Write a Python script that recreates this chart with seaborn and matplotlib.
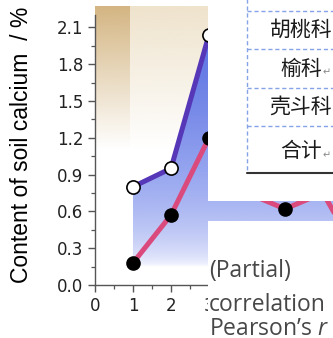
import numpy as np
import matplotlib
matplotlib.use("Agg")
import matplotlib.pyplot as plt
import seaborn as sns
from matplotlib.patches import PathPatch
from matplotlib.ticker import MultipleLocator, FormatStrFormatter

# ---- data -------------------------------------------------------------
months = [1, 2, 3, 4, 5, 6, 7]
calcium_upper = [0.80, 0.95, 2.04, 1.86, 1.55, 1.72, 1.38]
calcium_lower = [0.18, 0.57, 1.20, 0.75, 0.62, 0.75, 0.20]
y_ticks = [0.0, 0.3, 0.6, 0.9, 1.2, 1.5, 1.8, 2.1]
x_ticks = [0, 1, 2, 3]
families = ["胡桃科", "榆科", "壳斗科", "合计"]
note_lines = ["(Partial)", "correlation", "Pearson’s $r$"]
y_label = "Content of soil calcium  / %"

# ---- styling ----------------------------------------------------------
sns.set_theme(style="ticks")
plt.rcParams["font.family"] = ["DejaVu Sans"]
plt.rcParams["mathtext.fontset"] = "custom"
plt.rcParams["mathtext.rm"] = "Open Sans"
plt.rcParams["mathtext.it"] = "Open Sans:italic"

PURPLE = "#5637b8"
PINK = "#db4a7d"
TAN = (212, 181, 130)
BEIGE = (239, 227, 204)
BLUE = (88, 112, 230)

W, H = 333, 338
fig = plt.figure(figsize=(W / 100, H / 100), dpi=100)
fig.patch.set_facecolor("white")


def px_rect(x0, y0, x1, y1):
    return [x0 / W, 1 - y1 / H, (x1 - x0) / W, (y1 - y0) / H]


def vertical_gradient(ax, x0, x1, y0, y1, rgb, alpha_of, z):
    vals = np.linspace(y1, y0, 256)
    img = np.zeros((256, 1, 4))
    img[..., :3] = np.array(rgb) / 255.0
    img[:, 0, 3] = alpha_of(vals)
    return ax.imshow(img, extent=[x0, x1, y0, y1], origin="upper",
                     aspect="auto", zorder=z, interpolation="bilinear")


# ---- main chart -------------------------------------------------------
ax = fig.add_axes(px_rect(95, 15, 333, 285))
ax.set_facecolor("white")

top = 2.27
fade = lambda v: np.clip((v - 1.1) / (top - 1.1), 0, 1)
im_a = vertical_gradient(ax, 0, 0.92, 1.0, top, TAN, fade, 0)
im_b = vertical_gradient(ax, 0.92, 7.5, 1.0, top, BEIGE, fade, 0)
for im in (im_a, im_b):
    im.set_clip_on(False)

# blue wash under the upper series
fill = ax.fill_between(months, calcium_upper, 0, facecolor="none",
                       edgecolor="none")
clip_patch = PathPatch(fill.get_paths()[0], transform=ax.transData,
                       facecolor="none", edgecolor="none")
ax.add_patch(clip_patch)
blue_alpha = lambda v: np.clip((v - 0.15) / 1.95, 0, 1) ** 0.5
im_blue = vertical_gradient(ax, 1, 7, 0, 2.3, BLUE, blue_alpha, 1)
im_blue.set_clip_path(clip_patch)

sns.lineplot(x=months, y=calcium_lower, ax=ax, color=PINK, lw=3.6,
             marker="o", markersize=9.5, markerfacecolor="black",
             markeredgecolor="black", markeredgewidth=1.0, zorder=4)
sns.lineplot(x=months, y=calcium_upper, ax=ax, color=PURPLE, lw=3.6,
             marker="o", markersize=9.5, markerfacecolor="white",
             markeredgecolor="black", markeredgewidth=1.2, zorder=5)

ax.set_xlim(0, 238 / 38)
ax.set_ylim(0, 2.2)
ax.set_xticks(x_ticks)
ax.set_yticks(y_ticks)
ax.xaxis.set_minor_locator(MultipleLocator(0.5))
ax.yaxis.set_minor_locator(MultipleLocator(0.15))
ax.yaxis.set_major_formatter(FormatStrFormatter("%.1f"))
ax.tick_params(which="major", direction="out", length=5, width=1,
               color="#555555", labelsize=12, labelcolor="#222222", pad=3.5)
ax.tick_params(which="minor", direction="out", length=3, width=0.9,
               color="#555555")
for side in ("top", "right"):
    ax.spines[side].set_visible(False)
for side in ("left", "bottom"):
    ax.spines[side].set_color("#555555")
    ax.spines[side].set_linewidth(1)

fig.text(22 / W, 1 - 145 / H, y_label, rotation=90, ha="center",
         va="center", family="Liberation Sans", size=16.5, color="black")

# ---- table panel ------------------------------------------------------
axt = fig.add_axes(px_rect(208, 0, 333, 201))
axt.set_facecolor("white")
axt.set_xlim(208, 333)
axt.set_ylim(201, 0)
axt.set_xticks([])
axt.set_yticks([])
for s in axt.spines.values():
    s.set_visible(False)

dash = dict(color="#86a3e8", lw=1, ls=(0, (3, 2)))
axt.plot([247, 247], [-2, 173], **dash)
row_edges = [11, 49, 88, 126, 173]
for y in row_edges[:-1]:
    axt.plot([247, 340], [y, y], **dash)
axt.plot([247, 340], [173, 173], color="#333333", lw=1.5)

row_centers = [30, 68.5, 107, 151]
char_w = 21
for name, yc in zip(families, row_centers):
    x_left = 301 - len(name) * char_w / 2
    axt.text(x_left, yc, name, ha="left", va="center", size=15,
             color="#1a1a1a", family=["Noto Sans CJK SC", "DejaVu Sans"])
    axt.text(x_left + len(name) * char_w + 1, yc + 4, "↵", ha="left",
             va="center", size=7, color="#888888", family="DejaVu Sans")

# ---- note panel -------------------------------------------------------
axb = fig.add_axes(px_rect(208, 221, 333, 338))
axb.set_facecolor("white")
axb.set_xlim(208, 333)
axb.set_ylim(338, 221)
axb.set_xticks([])
axb.set_yticks([])
for s in axb.spines.values():
    s.set_visible(False)

for line, base in zip(note_lines, [277, 311, 335]):
    axb.text(209, base, line, ha="left", va="baseline", size=16.5,
             color="#474747", family="Open Sans")

fig.savefig("out.png", dpi=100)
